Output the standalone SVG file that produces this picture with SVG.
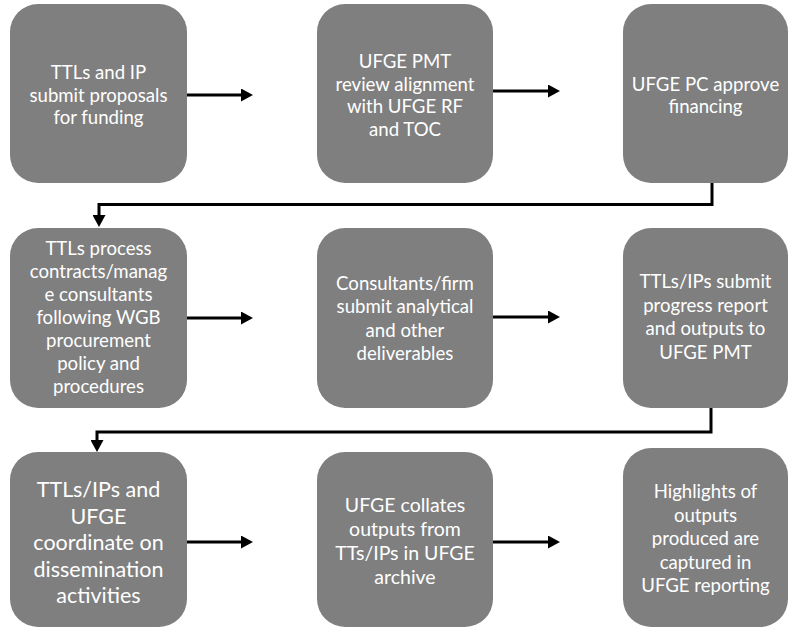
<svg xmlns="http://www.w3.org/2000/svg" width="790" height="629" viewBox="0 0 790 629">
<defs>
<style>
.box{fill:#7f7f7f;}
.t{fill:#ffffff;font-family:Lato,"Liberation Sans",sans-serif;text-anchor:middle;font-size:18.6px;}
.big{font-size:21.5px;}
.mid{font-size:19.5px;}
.conn{fill:none;stroke:#000;stroke-width:3;}
</style>
<marker id="ah" markerUnits="userSpaceOnUse" markerWidth="12" markerHeight="13" refX="4" refY="6.5" orient="auto">
<path d="M0,0 L12,6.5 L0,13 z" fill="#000"/>
</marker>
</defs>
<rect width="790" height="629" fill="#ffffff"/>
<g id="n1"><rect class="box" x="10" y="4" width="177" height="179" rx="28"/>
<text class="t" x="98.5"><tspan x="98.5" y="79">TTLs and IP</tspan><tspan x="98.5" y="101.5">submit proposals</tspan><tspan x="98.5" y="124">for funding</tspan></text></g>
<g id="n2"><rect class="box" x="317" y="4" width="176" height="179" rx="28"/>
<text class="t"><tspan x="405" y="68">UFGE PMT</tspan><tspan x="405" y="90.5">review alignment</tspan><tspan x="405" y="113">with UFGE RF</tspan><tspan x="405" y="135.5">and TOC</tspan></text></g>
<g id="n3"><rect class="box" x="623" y="4" width="165" height="179" rx="28"/>
<text class="t"><tspan x="705.5" y="90.5">UFGE PC approve</tspan><tspan x="705.5" y="113">financing</tspan></text></g>
<g id="n4"><rect class="box" x="10" y="228" width="177" height="180" rx="28"/>
<text class="t"><tspan x="98.5" y="255">TTLs process</tspan><tspan x="98.5" y="278">contracts/manag</tspan><tspan x="98.5" y="301">e consultants</tspan><tspan x="98.5" y="324">following WGB</tspan><tspan x="98.5" y="347">procurement</tspan><tspan x="98.5" y="370">policy and</tspan><tspan x="98.5" y="393">procedures</tspan></text></g>
<g id="n5"><rect class="box" x="317" y="228" width="176" height="180" rx="28"/>
<text class="t"><tspan x="405" y="290">Consultants/firm</tspan><tspan x="405" y="313">submit analytical</tspan><tspan x="405" y="336.5">and other</tspan><tspan x="405" y="359.5">deliverables</tspan></text></g>
<g id="n6"><rect class="box" x="623" y="228" width="165" height="180" rx="28"/>
<text class="t"><tspan x="705.5" y="288">TTLs/IPs submit</tspan><tspan x="705.5" y="311.5">progress report</tspan><tspan x="705.5" y="335">and outputs to</tspan><tspan x="705.5" y="358.5">UFGE PMT</tspan></text></g>
<g id="n7"><rect class="box" x="10" y="452" width="177" height="175" rx="28"/>
<text class="t big"><tspan x="98.5" y="497">TTLs/IPs and</tspan><tspan x="98.5" y="523.5">UFGE</tspan><tspan x="98.5" y="550">coordinate on</tspan><tspan x="98.5" y="576.5">dissemination</tspan><tspan x="98.5" y="603">activities</tspan></text></g>
<g id="n8"><rect class="box" x="317" y="452" width="176" height="175" rx="28"/>
<text class="t mid"><tspan x="405" y="512">UFGE collates</tspan><tspan x="405" y="536">outputs from</tspan><tspan x="405" y="560">TTs/IPs in UFGE</tspan><tspan x="405" y="584">archive</tspan></text></g>
<g id="n9"><rect class="box" x="623" y="448" width="165" height="179" rx="28"/>
<text class="t"><tspan x="705.5" y="498">Highlights of</tspan><tspan x="705.5" y="521.5">outputs</tspan><tspan x="705.5" y="545">produced are</tspan><tspan x="705.5" y="568.5">captured in</tspan><tspan x="705.5" y="592">UFGE reporting</tspan></text></g>
<g id="connectors">
<path class="conn" d="M187,95 H245" marker-end="url(#ah)"/>
<path class="conn" d="M493,91 H552" marker-end="url(#ah)"/>
<path class="conn" d="M712,183 V204.5 H99 V219" marker-end="url(#ah)"/>
<path class="conn" d="M187,318 H245" marker-end="url(#ah)"/>
<path class="conn" d="M493,317 H552" marker-end="url(#ah)"/>
<path class="conn" d="M711,408 V432 H97 V444" marker-end="url(#ah)"/>
<path class="conn" d="M187,542 H245" marker-end="url(#ah)"/>
<path class="conn" d="M493,542 H552" marker-end="url(#ah)"/>
</g>
</svg>
